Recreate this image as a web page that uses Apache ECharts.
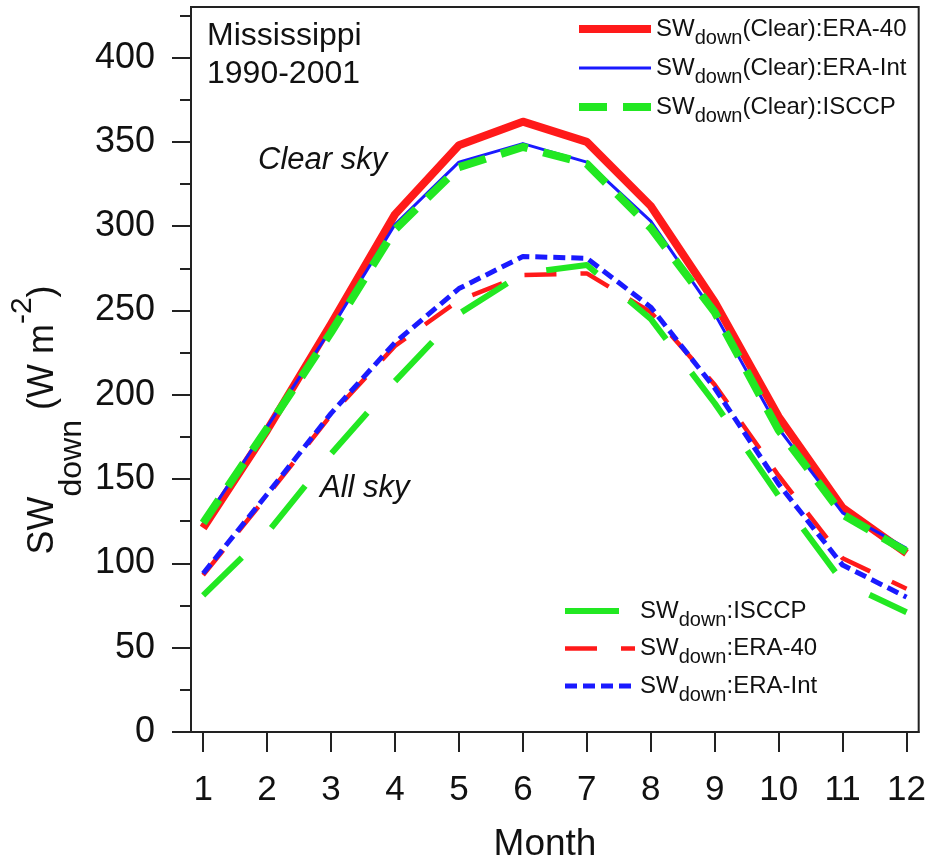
<!DOCTYPE html>
<html>
<head>
<meta charset="utf-8">
<script src="https://cdn.jsdelivr.net/npm/echarts@6/dist/echarts.min.js"></script>
<style>
  html, body { margin: 0; padding: 0; background: #fff; }
  #chart { width: 929px; height: 864px; }
</style>
</head>
<body>
<div id="chart"></div>
<script>
var months = [1, 2, 3, 4, 5, 6, 7, 8, 9, 10, 11, 12];
var yTicks = [0, 50, 100, 150, 200, 250, 300, 350, 400];
var yMinorTicks = [25, 75, 125, 175, 225, 275, 325, 375, 425];

// clear sky
var clearEra40 = [121, 179, 242, 307, 348, 362, 350, 312, 255, 187, 133, 106];
var clearEraInt = [124, 181, 239, 301, 338, 349, 338, 303, 248, 180, 130, 109];
var clearIsccp = [124, 180, 237, 298, 335, 347, 337, 299, 249, 179, 129, 107];
// all sky
var allIsccp = [81, 118, 165, 208, 248, 272, 277, 245, 195, 140, 89, 71];
var allEra40 = [93, 140, 188, 229, 256, 271, 272, 249, 206, 152, 103, 85];
var allEraInt = [94, 141, 189, 231, 263, 282, 281, 252, 204, 147, 99, 80];

var FONT = "'Liberation Sans', Arial, sans-serif";
var RED = "#ff1a1a", BLUE = "#1a1aff", GREEN = "#22e822";

function pairs(vals) {
  return months.map(function (m, i) { return [m, vals[i]]; });
}

function lineSeries(name, vals, color, width, type) {
  return {
    name: name,
    type: "line",
    data: pairs(vals),
    symbol: "none",
    silent: true,
    lineStyle: { color: color, width: width, type: type, cap: "butt", join: "round" },
    itemStyle: { color: color },
  };
}

var chart = echarts.init(document.getElementById("chart"));

var legendRich = {
  a: { fontSize: 24, lineHeight: 38, verticalAlign: "middle", fontFamily: FONT, color: "#111" },
  s: { fontSize: 20, lineHeight: 16, verticalAlign: "bottom", fontFamily: FONT, color: "#111" },
};
function legendFmt(name) {
  return name.replace("SWdown", "{a|SW}{s|down}{a|") + "}";
}
// line icon only, hide the marker ECharts puts in the middle
var noMarker = { color: "rgba(0,0,0,0)", borderColor: "rgba(0,0,0,0)", borderWidth: 0 };

var option = {
  animation: false,
  backgroundColor: "#fff",
  grid: {
    left: 191, right: 7, top: 7, bottom: 132,
    show: true, borderColor: "#222", borderWidth: 2, backgroundColor: "transparent",
  },
  xAxis: {
    type: "value",
    min: 0.81,
    max: 12.19,
    axisLine: { show: true, onZero: false, lineStyle: { color: "#222", width: 2 } },
    axisTick: { show: true, length: 20, customValues: months, lineStyle: { color: "#222", width: 2 } },
    axisLabel: { customValues: months, margin: 41, fontSize: 35, color: "#111", fontFamily: FONT },
    splitLine: { show: false },
  },
  yAxis: [
    {
      type: "value",
      min: 0,
      max: 430,
      axisLine: { show: true, lineStyle: { color: "#222", width: 2 } },
      axisTick: { show: true, length: 19, customValues: yTicks, lineStyle: { color: "#222", width: 2 } },
      axisLabel: { customValues: yTicks, margin: 36, fontSize: 36, color: "#111", fontFamily: FONT },
      splitLine: { show: false },
    },
    {
      type: "value",
      min: 0,
      max: 430,
      position: "left",
      axisLine: { show: false },
      axisTick: { show: true, length: 11, customValues: yMinorTicks, lineStyle: { color: "#222", width: 2 } },
      axisLabel: { show: false },
      splitLine: { show: false },
    },
  ],
  legend: [
    {
      left: 575, top: 17, orient: "vertical", padding: 0, itemGap: 8,
      itemWidth: 72, itemHeight: 14, selectedMode: false,
      formatter: legendFmt,
      itemStyle: noMarker,
      textStyle: { rich: legendRich },
      data: [
        { name: "SWdown(Clear):ERA-40", lineStyle: { width: 8 } },
        { name: "SWdown(Clear):ERA-Int", lineStyle: { width: 3 } },
        { name: "SWdown(Clear):ISCCP", lineStyle: { width: 8 } },
      ],
    },
    {
      left: 562, top: 599, orient: "vertical", padding: 0, itemGap: 6.5,
      itemWidth: 70, itemHeight: 14, selectedMode: false,
      formatter: legendFmt,
      itemStyle: noMarker,
      textStyle: { rich: legendRich },
      data: [
        { name: "SWdown:ISCCP", lineStyle: { width: 6 } },
        { name: "SWdown:ERA-40", lineStyle: { width: 4.5 } },
        { name: "SWdown:ERA-Int", lineStyle: { width: 5 } },
      ],
    },
  ],
  graphic: [
    {
      type: "text", left: 207, top: 17, silent: true,
      style: { text: "Mississippi\n1990-2001", fontSize: 32, lineHeight: 38, fontFamily: FONT, fill: "#111" },
    },
    {
      type: "text", left: 258, top: 145, silent: true,
      style: { text: "Clear sky", fontSize: 31, fontStyle: "italic", fontFamily: FONT, fill: "#111" },
    },
    {
      type: "text", left: 320, top: 473, silent: true,
      style: { text: "All sky", fontSize: 31, fontStyle: "italic", fontFamily: FONT, fill: "#111" },
    },
    {
      type: "text", x: 545, y: 845, silent: true,
      style: { text: "Month", fontSize: 37, fontFamily: FONT, fill: "#111", align: "center", verticalAlign: "middle" },
    },
    {
      // rotated y axis title with sub- and superscript
      type: "text", x: 43, y: 420, rotation: Math.PI / 2, silent: true,
      style: {
        text: "{a|SW}{s|down}{a| (W m}{p|-2}{a|)}",
        align: "center",
        verticalAlign: "middle",
        rich: {
          a: { fontSize: 36, lineHeight: 90, verticalAlign: "middle", fontFamily: FONT, fill: "#111" },
          s: { fontSize: 32, lineHeight: 48, verticalAlign: "bottom", fontFamily: FONT, fill: "#111" },
          p: { fontSize: 30, verticalAlign: "top", padding: [10, 0, 0, 0], fontFamily: FONT, fill: "#111" },
        },
      },
    },
  ],
  series: [
    lineSeries("SWdown(Clear):ERA-40", clearEra40, RED, 8, "solid"),
    lineSeries("SWdown(Clear):ERA-Int", clearEraInt, BLUE, 3, "solid"),
    lineSeries("SWdown(Clear):ISCCP", clearIsccp, GREEN, 8, [28, 16]),
    lineSeries("SWdown:ERA-40", allEra40, RED, 4.5, [32, 24]),
    lineSeries("SWdown:ERA-Int", allEraInt, BLUE, 5, [12, 6]),
    lineSeries("SWdown:ISCCP", allIsccp, GREEN, 6, [54, 42]),
  ],
};

chart.setOption(option);
</script>
</body>
</html>
